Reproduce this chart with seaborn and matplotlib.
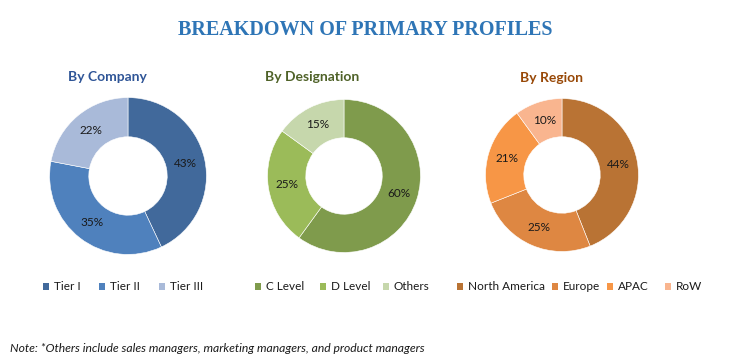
import matplotlib
matplotlib.use("Agg")
import matplotlib.pyplot as plt
import seaborn as sns
import numpy as np
from matplotlib.patches import Patch

# ---------- DATA ----------
company_labels = ["Tier I", "Tier II", "Tier III"]
company_values = [43, 35, 22]
company_colors = ["#41699B", "#4F81BD", "#A9BAD9"]

designation_labels = ["C Level", "D Level", "Others"]
designation_values = [60, 25, 15]
designation_colors = ["#7F9B4C", "#9BBB59", "#C6D7AC"]

region_labels = ["North America", "Europe", "APAC", "RoW"]
region_values = [44, 25, 21, 10]
region_colors = ["#B97334", "#DE8742", "#F79646", "#F9B58F"]

sns.set_theme(style="white")
plt.rcParams["font.family"] = ["Lato", "DejaVu Sans"]

W, H = 730, 363
fig = plt.figure(figsize=(W / 100, H / 100), dpi=100)


def donut(cx, cy, r, values, colors):
    ax = fig.add_axes([(cx - r) / W, (H - cy - r) / H, 2 * r / W, 2 * r / H])
    ax.pie(values, colors=colors, startangle=90, counterclock=False, radius=1.0,
           wedgeprops=dict(width=0.5, edgecolor="white", linewidth=0.4))
    cum = 0
    for v in values:
        a = np.deg2rad(90 - (cum + v / 2) * 3.6)
        ax.text(0.75 * np.cos(a), 0.75 * np.sin(a), f"{v}%", ha="center", va="center",
                fontsize=8.5, color="#1a1a1a")
        cum += v
    ax.set_xlim(-1.02, 1.02)
    ax.set_ylim(-1.02, 1.02)
    ax.set_aspect("equal")
    ax.axis("off")
    return ax


donut(128, 176, 80, company_values, company_colors)
donut(344, 176, 78, designation_values, designation_colors)
donut(562, 175, 78, region_values, region_colors)

# ---------- TEXT ----------
fig.text(365 / W, 1 - 30 / H, "BREAKDOWN OF PRIMARY PROFILES", ha="center", va="center",
         fontsize=14.5, fontweight="bold", color="#2E75B6", family="Liberation Serif")
fig.text(107 / W, 1 - 77 / H, "By Company", ha="center", va="center",
         fontsize=10, fontweight="bold", color="#2F5597")
fig.text(312 / W, 1 - 77 / H, "By Designation", ha="center", va="center",
         fontsize=10, fontweight="bold", color="#4F6228")
fig.text(551 / W, 1 - 78 / H, "By Region", ha="center", va="center",
         fontsize=10, fontweight="bold", color="#984807")

fig.text(10 / W, 1 - 349 / H, "Note: *Others include sales managers, marketing managers, and product managers",
         ha="left", va="center", fontsize=8.7, style="italic", color="#1a1a1a")


# legend entries, placed one by one at the reference's x positions (pixels)
def legend(xs, labels, colors):
    for x, lab, col in zip(xs, labels, colors):
        fig.legend([Patch(facecolor=col, edgecolor="none")], [lab], loc="center left",
                   bbox_to_anchor=(x / W, 1 - 287 / H), frameon=False, fontsize=8.5,
                   handlelength=0.55, handleheight=0.55, handletextpad=0.35,
                   borderaxespad=0, borderpad=0, labelcolor="#1a1a1a")


legend([43, 99, 159], company_labels, company_colors)
legend([255, 320, 383], designation_labels, designation_colors)
legend([457, 552, 607, 665], region_labels, region_colors)

fig.savefig("out.png", dpi=100)
